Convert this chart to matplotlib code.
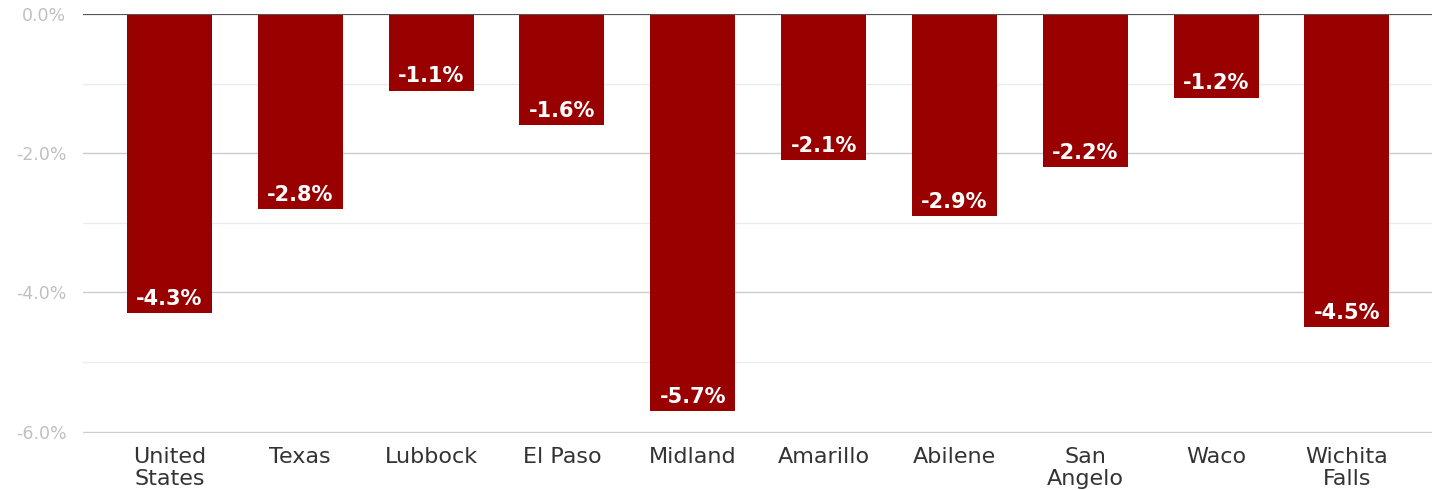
import matplotlib
matplotlib.use("Agg")
import matplotlib.pyplot as plt
from matplotlib.ticker import FixedLocator

categories = ["United\nStates", "Texas", "Lubbock", "El Paso", "Midland",
              "Amarillo", "Abilene", "San\nAngelo", "Waco", "Wichita\nFalls"]
changes = [-4.3, -2.8, -1.1, -1.6, -5.7, -2.1, -2.9, -2.2, -1.2, -4.5]
major_ticks = [0.0, -2.0, -4.0, -6.0]
minor_ticks = [-1.0, -3.0, -5.0]

plt.rcParams['font.family'] = ['DejaVu Sans']

fig = plt.figure(figsize=(14.44, 4.90), dpi=100)
ax = fig.add_axes([83 / 1444, 1 - 433 / 490, (1432 - 83) / 1444, (433 - 14) / 490])

x = list(range(len(categories)))
bars = ax.bar(x, changes, width=0.65, color="#990000", zorder=3)

for xi, v in zip(x, changes):
    ax.annotate(f"{v:.1f}%", (xi, v), xytext=(0, 3), textcoords="offset points",
                ha="center", va="bottom", color="white", fontsize=15,
                fontweight="bold", zorder=4)

ax.set_xlim(-0.66, 9.65)
ax.set_ylim(-6.02, 0.0)
ax.yaxis.set_major_locator(FixedLocator(major_ticks))
ax.yaxis.set_minor_locator(FixedLocator(minor_ticks))
ax.set_yticklabels([f"{t:.1f}%" for t in major_ticks])
ax.grid(axis="y", which="major", color="#cccccc", linewidth=1.0, zorder=0)
ax.grid(axis="y", which="minor", color="#ebebeb", linewidth=1.0, zorder=0)
ax.axhline(0, color="#555555", linewidth=1.5, zorder=5)

ax.set_xticks(x)
ax.set_xticklabels(categories, fontsize=16, color="#333333", linespacing=1.12)
ax.tick_params(axis="x", length=0, pad=10)
ax.tick_params(axis="y", which="both", length=0, pad=12, labelsize=12.5,
               labelcolor="#c0c0c0")
for s in ax.spines.values():
    s.set_visible(False)

fig.savefig("out.png", dpi=100, facecolor="white")
